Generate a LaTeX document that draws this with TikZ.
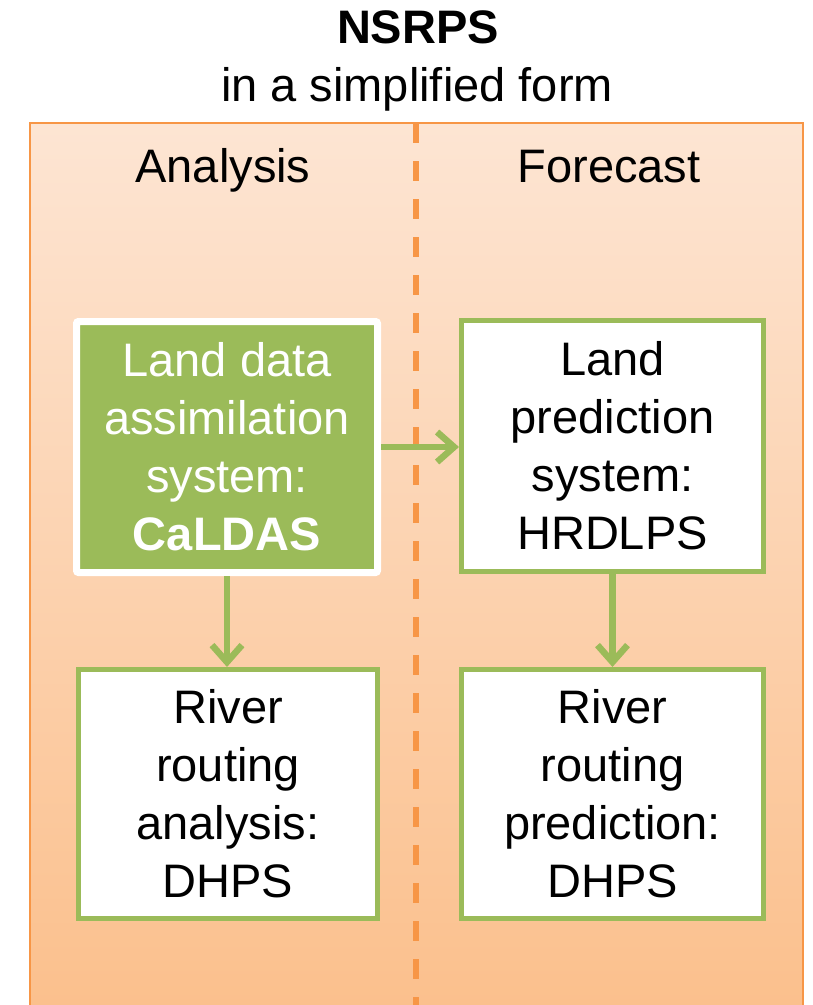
\documentclass[tikz,border=0pt]{standalone}
\usepackage{fontspec}
\setmainfont{Liberation Sans}
\usetikzlibrary{arrows.meta}

\definecolor{nsOrange}{RGB}{247,150,70}
\definecolor{nsGreen}{RGB}{155,187,89}
\definecolor{nsPeachTop}{RGB}{253,229,211}
\definecolor{nsPeachBot}{RGB}{251,191,139}

\begin{document}
\begin{tikzpicture}[x=1pt, y=-1pt,
  every node/.style = {font=\fontsize{47}{58}\selectfont, align=center},
  box/.style = {shape=rectangle, draw=nsGreen, line width=5pt, fill=white, inner sep=0pt,
                minimum width=302pt, minimum height=251pt},
  link/.style = {draw=nsGreen, line width=6.5pt, -{Straight Barb[length=17pt,width=30pt]}}]
\useasboundingbox (0,0) rectangle (813,1005);

% Title
\node[anchor=base] (title) at (418,43) {\bfseries NSRPS};
\node[anchor=base] (subtitle) at (417,101) {in a simplified form};

% Panel with the two halves
\draw[draw=nsOrange, line width=1.5pt, top color=nsPeachTop, bottom color=nsPeachBot]
  (30,123) rectangle (803,1030);
\draw[draw=nsOrange, line width=6pt, dash pattern=on 20pt off 18pt] (416,123) -- (416,1005);
\node[anchor=base] (analysis) at (223,182) {Analysis};
\node[anchor=base] (forecast) at (609,182) {Forecast};

% Systems
\node[box, draw=white, line width=7pt, fill=nsGreen, text=white, rounded corners=2pt,
      minimum width=301pt] (caldas) at (227,447)
  {Land data\\assimilation\\system:\\\bfseries CaLDAS};
\node[box] (hrdlps) at (612.5,446) {Land\\prediction\\system:\\HRDLPS};
\node[box, minimum width=299pt, minimum height=249pt] (rra) at (228,794)
  {River\\routing\\analysis:\\DHPS};
\node[box, minimum height=249pt] (rrp) at (612.5,794)
  {River\\routing\\prediction:\\DHPS};

% Links
\draw[link] (caldas.east) -- (caldas.east -| hrdlps.west);
\draw[link] (caldas.south) -- (caldas.south |- rra.north);
\draw[link] (hrdlps.south) -- (hrdlps.south |- rrp.north);
\end{tikzpicture}
\end{document}
